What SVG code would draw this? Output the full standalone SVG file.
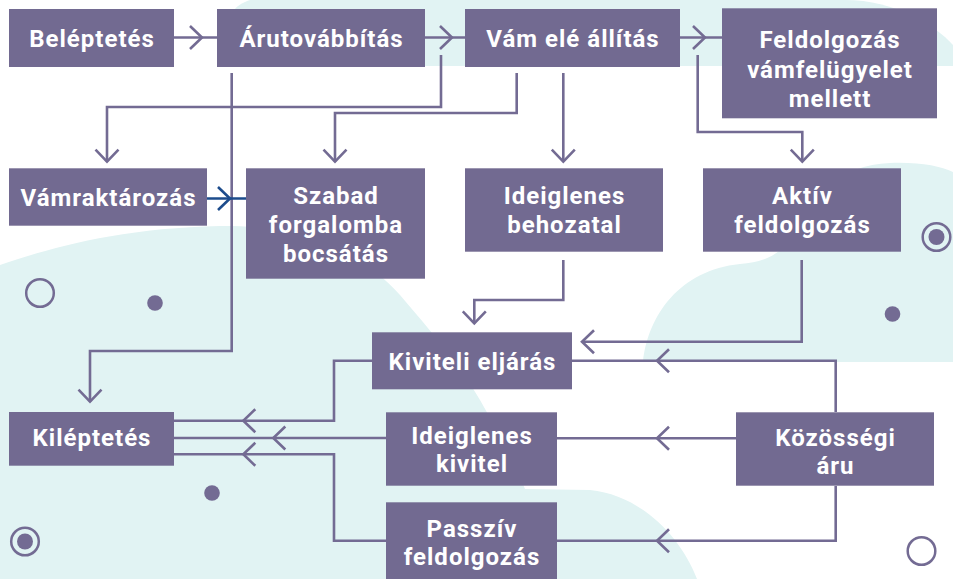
<svg xmlns="http://www.w3.org/2000/svg" xmlns:xlink="http://www.w3.org/1999/xlink" width="953" height="579" viewBox="0 0 953 579">
<style>
.bg{fill:#e1f3f3}
.box{fill:#726a91}
.t{font-family:Roboto,"Liberation Sans",sans-serif;font-weight:700;font-size:24px;letter-spacing:1px;fill:#ffffff;text-anchor:middle}
.ln{fill:none;stroke:#736b93;stroke-width:2.6}
.blue{stroke:#1d4c8c}
.deco{fill:none;stroke:#736b93;stroke-width:2.5}
.dot{fill:#736b93}
</style>
<defs>
<path id="chev" d="M-12,-11.5 L0,0 L-12,11.5"/>
</defs>
<rect width="953" height="579" fill="#ffffff"/>
<g id="background">
<path class="bg" d="M250,0 H845 C895,0 935,25 953,45 V66 H235 V9 C238,5 244,2 250,0 Z"/>
<path class="bg" d="M643,362 C648,315 680,270 740,264 C765,262 778,255 790,240 C810,195 840,165 890,163 C920,162 940,166 953,172 V362 Z"/>
<path class="bg" d="M0,265 C50,248 120,228 220,226 C300,225 360,250 400,295 C430,330 460,365 480,400 C500,435 515,465 525,489 L590,490 C640,495 680,535 697,579 L0,579 Z"/>
</g>
<g id="decorations">
<circle class="deco" cx="40" cy="293" r="13.8"/>
<circle class="dot" cx="155" cy="303" r="7.8"/>
<circle class="deco" cx="936.5" cy="237" r="13.8"/>
<circle class="dot" cx="936.5" cy="237" r="8"/>
<circle class="dot" cx="892.5" cy="314" r="7.8"/>
<circle class="dot" cx="212" cy="493" r="7.8"/>
<circle class="deco" cx="25" cy="541.5" r="13.8"/>
<circle class="dot" cx="25" cy="541.5" r="8"/>
<circle class="deco" cx="921.5" cy="551" r="13.8"/>
</g>
<g id="connectors">
<path class="ln" d="M174,37.5 H217"/>
<use class="ln" href="#chev" transform="translate(202,37.5)"/>
<path class="ln" d="M425,37.5 H465"/>
<use class="ln" href="#chev" transform="translate(452,37.5)"/>
<path class="ln" d="M680,37.5 H722"/>
<use class="ln" href="#chev" transform="translate(705,37.5)"/>
<path class="ln" d="M231.7,73 V351 H90 V401.7"/>
<use class="ln" href="#chev" transform="translate(90,401.7) rotate(90)"/>
<path class="ln" d="M441,55 V107 H107 V161.7"/>
<use class="ln" href="#chev" transform="translate(107,161.7) rotate(90)"/>
<path class="ln" d="M516.7,73 V113 H335 V161.7"/>
<use class="ln" href="#chev" transform="translate(335,161.7) rotate(90)"/>
<path class="ln" d="M563.3,73 V161.7"/>
<use class="ln" href="#chev" transform="translate(563.3,161.7) rotate(90)"/>
<path class="ln" d="M697.7,55 V132 H802.3 V161.7"/>
<use class="ln" href="#chev" transform="translate(802.3,161.7) rotate(90)"/>
<path class="ln blue" d="M207,198.5 H246"/>
<use class="ln blue" href="#chev" transform="translate(230,198.5)"/>
<path class="ln" d="M563.3,260 V300 H474.3 V323.3"/>
<use class="ln" href="#chev" transform="translate(474.3,323.3) rotate(90)"/>
<path class="ln" d="M801.7,260 V341.7 H582"/>
<use class="ln" href="#chev" transform="translate(582,341.7) rotate(180)"/>
<path class="ln" d="M835.7,412 V360.7 H572"/>
<use class="ln" href="#chev" transform="translate(657,360.7) rotate(180)"/>
<path class="ln" d="M736,438.3 H557"/>
<use class="ln" href="#chev" transform="translate(657,438.3) rotate(180)"/>
<path class="ln" d="M835.7,486 V540.7 H557"/>
<use class="ln" href="#chev" transform="translate(657,540.7) rotate(180)"/>
<path class="ln" d="M372,360.7 H334 V420.7 H174"/>
<use class="ln" href="#chev" transform="translate(243.3,420.7) rotate(180)"/>
<path class="ln" d="M386,438 H174"/>
<use class="ln" href="#chev" transform="translate(273.3,438) rotate(180)"/>
<path class="ln" d="M386,540.7 H334 V454.3 H174"/>
<use class="ln" href="#chev" transform="translate(243.3,454.3) rotate(180)"/>
</g>
<g id="n-beleptetes"><rect class="box" x="9" y="9" width="165" height="58"/><text class="t" x="92" y="46.8">Beléptetés</text></g>
<g id="n-arutovabbitas"><rect class="box" x="217" y="9" width="208" height="58"/><text class="t" x="321.5" y="46.8">Árutovábbítás</text></g>
<g id="n-vam-ele-allitas"><rect class="box" x="465" y="9" width="215" height="58"/><text class="t" x="573" y="46.8">Vám elé állítás</text></g>
<g id="n-feldolgozas-vamfelugyelet"><rect class="box" x="722" y="8.3" width="215" height="110"/><text class="t" x="830" y="48.3">Feldolgozás</text><text class="t" x="830" y="77.5">vámfelügyelet</text><text class="t" x="830" y="106.7">mellett</text></g>
<g id="n-vamraktarozas"><rect class="box" x="9" y="168.3" width="198" height="57.4"/><text class="t" x="108.5" y="205.6">Vámraktározás</text></g>
<g id="n-szabad-forgalomba"><rect class="box" x="246" y="168.3" width="179" height="110.4"/><text class="t" x="336" y="204">Szabad</text><text class="t" x="336" y="233">forgalomba</text><text class="t" x="336" y="262">bocsátás</text></g>
<g id="n-ideiglenes-behozatal"><rect class="box" x="465" y="168.3" width="198" height="83.4"/><text class="t" x="564.5" y="204">Ideiglenes</text><text class="t" x="564.5" y="233">behozatal</text></g>
<g id="n-aktiv-feldolgozas"><rect class="box" x="703" y="168.3" width="198" height="83.4"/><text class="t" x="802.5" y="204">Aktív</text><text class="t" x="802.5" y="233">feldolgozás</text></g>
<g id="n-kiviteli-eljaras"><rect class="box" x="372" y="332.3" width="200" height="57"/><text class="t" x="472.5" y="369.6">Kiviteli eljárás</text></g>
<g id="n-kileptetes"><rect class="box" x="9" y="412" width="165" height="53.7"/><text class="t" x="92" y="446">Kiléptetés</text></g>
<g id="n-ideiglenes-kivitel"><rect class="box" x="386" y="412.3" width="171" height="73.4"/><text class="t" x="472" y="443.5">Ideiglenes</text><text class="t" x="472" y="472.3">kivitel</text></g>
<g id="n-passziv-feldolgozas"><rect class="box" x="386" y="502.3" width="171" height="76.7"/><text class="t" x="472" y="536.7">Passzív</text><text class="t" x="472" y="565.3">feldolgozás</text></g>
<g id="n-kozossegi-aru"><rect class="box" x="736" y="412.3" width="198" height="73.4"/><text class="t" x="835.5" y="445.7">Közösségi</text><text class="t" x="835.5" y="474">áru</text></g>
</svg>
